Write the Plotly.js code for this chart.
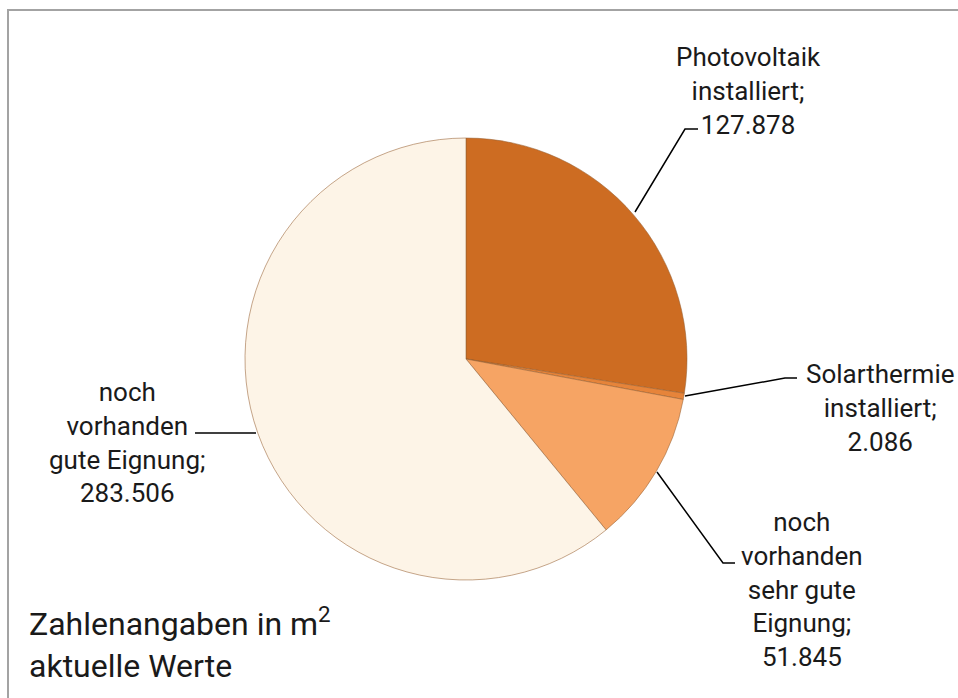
<!DOCTYPE html>
<html>
<head>
<meta charset="utf-8">
<script src="https://cdn.plot.ly/plotly-3.0.1.min.js"></script>
<style>
html,body{margin:0;padding:0;background:#fff;}
#chart{width:958px;height:698px;}
</style>
</head>
<body>
<div id="chart"></div>
<script>
// --- data ---
const categories = ["Photovoltaik installiert", "Solarthermie installiert", "noch vorhanden sehr gute Eignung", "noch vorhanden gute Eignung"];
const labelText = ["Photovoltaik<br>installiert;", "Solarthermie<br>installiert;", "noch<br>vorhanden<br>sehr gute<br>Eignung;", "noch<br>vorhanden<br>gute Eignung;"];
const values = [127878, 2086, 51845, 283506];
const sliceColors = ["#cd6c22", "#e6843a", "#f6a464", "#fdf4e7"];
const noteLines = ["Zahlenangaben in m<sup>2</sup>", "aktuelle Werte"];

// --- layout helpers (pixel -> paper) ---
const W = 958, H = 698;
const px = x => x / W;
const py = y => 1 - y / H;
function fmt(v){ return String(v).replace(/\B(?=(\d{3})+(?!\d))/g, "."); }

const pieCx = 466, pieCy = 359, pieR = 221;

const labelPos = [
  {x: 748, y: 91},
  {x: 880, y: 408},
  {x: 802, y: 589},
  {x: 128, y: 443}
];
const leaders = [
  [[635,212],[685,129],[698,129]],
  [[685,396],[785,378],[797,378]],
  [[657,472],[723,563],[735,563]],
  [[256,433],[195,433]]
];

const fontFam = "Roboto, 'Noto Sans', sans-serif";

const annotations = categories.map((c, i) => ({
  text: labelText[i] + "<br>" + fmt(values[i]),
  x: px(labelPos[i].x), y: py(labelPos[i].y),
  xref: "paper", yref: "paper",
  xanchor: "center", yanchor: "middle",
  align: "center", showarrow: false,
  font: {family: fontFam, size: 26, color: "#1a1a1a"}
}));
annotations.push({
  text: noteLines.join("<br>"),
  x: px(27), y: py(643),
  xref: "paper", yref: "paper",
  xanchor: "left", yanchor: "middle",
  align: "left", showarrow: false,
  font: {family: fontFam, size: 32, color: "#1a1a1a"}
});

const shapes = leaders.map(pts => ({
  type: "path", xref: "paper", yref: "paper",
  path: pts.map((p, k) => (k ? "L" : "M") + px(p[0]) + "," + py(p[1])).join(" "),
  line: {color: "#000", width: 1.5}
}));
// outer frame (top and left visible)
shapes.push({
  type: "rect", xref: "paper", yref: "paper",
  x0: px(8), x1: 1.02, y0: -0.02, y1: py(10),
  line: {color: "#a3a3a3", width: 2}
});

const trace = {
  type: "pie",
  labels: categories,
  values: values,
  sort: false,
  direction: "clockwise",
  rotation: 0,
  marker: {colors: sliceColors, line: {color: "rgba(150,95,50,0.55)", width: 1}},
  textinfo: "none",
  hoverinfo: "none",
  showlegend: false,
  domain: {x: [px(pieCx - pieR), px(pieCx + pieR)], y: [py(pieCy + pieR), py(pieCy - pieR)]}
};

Plotly.newPlot("chart", [trace], {
  width: W, height: H,
  margin: {l: 0, r: 0, t: 0, b: 0},
  paper_bgcolor: "#fff",
  showlegend: false,
  annotations: annotations,
  shapes: shapes,
  font: {family: fontFam}
}, {staticPlot: true, displayModeBar: false});
</script>
</body>
</html>
